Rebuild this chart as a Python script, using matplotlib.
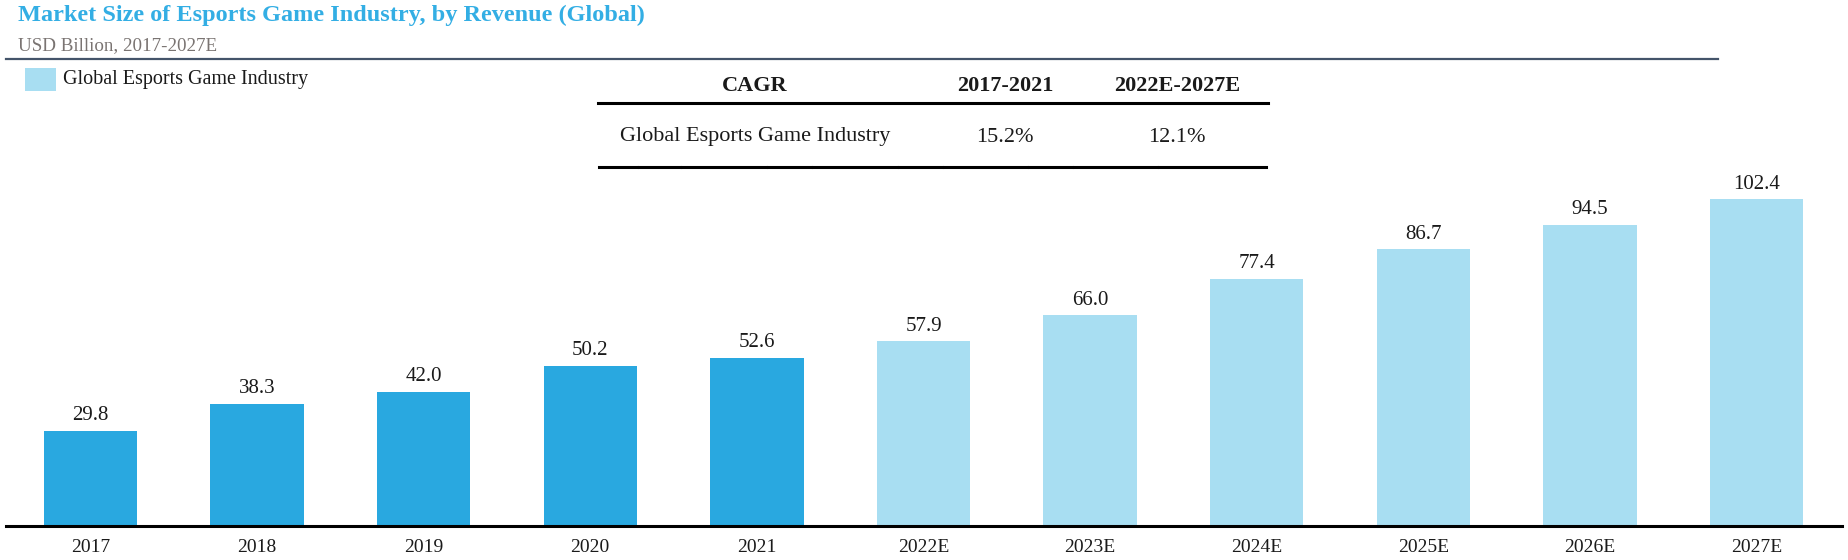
import matplotlib
matplotlib.use("Agg")
import matplotlib.pyplot as plt
from matplotlib.patches import Rectangle
from matplotlib.lines import Line2D

categories = ["2017", "2018", "2019", "2020", "2021", "2022E", "2023E", "2024E", "2025E", "2026E", "2027E"]
values = [29.8, 38.3, 42.0, 50.2, 52.6, 57.9, 66.0, 77.4, 86.7, 94.5, 102.4]
is_estimate = [False] * 5 + [True] * 6

title = "Market Size of Esports Game Industry, by Revenue (Global)"
subtitle = "USD Billion, 2017-2027E"
legend_label = "Global Esports Game Industry"
cagr_header = ["CAGR", "2017-2021", "2022E-2027E"]
cagr_row = ["Global Esports Game Industry", "15.2%", "12.1%"]

ACTUAL = "#29a8e0"
EST = "#a8def2"
TITLE_C = "#33aee4"
SUB_C = "#7a7472"
RULE_C = "#44546a"

plt.rcParams["font.family"] = ["Liberation Serif", "DejaVu Serif"]

W, H = 1848, 560
fig = plt.figure(figsize=(W / 100, H / 100), dpi=100)

def fx(px):
    return px / W

def fy(py):
    return 1 - py / H

# axes: baseline at y=526 px, 3.19 px per unit, ymax 110
ymax = 110
ppu = 3.19
ax_h = ymax * ppu
ax = fig.add_axes([fx(7), (H - 526) / H, fx(1840) - fx(7), ax_h / H])
x = list(range(len(categories)))
colors = [EST if e else ACTUAL for e in is_estimate]
bars = ax.bar(x, values, width=0.56, color=colors, zorder=2)
ax.set_xlim(-0.5, len(categories) - 0.5)
ax.set_ylim(0, ymax)
for rect, v in zip(bars, values):
    ax.annotate(f"{v:.1f}", (rect.get_x() + rect.get_width() / 2, v),
                xytext=(0, 11), textcoords="offset points",
                ha="center", va="center", fontsize=15, color="#1a1a1a")
ax.set_xticks(x)
ax.set_xticklabels(categories, fontsize=14, color="#1a1a1a")
ax.tick_params(axis="x", length=0, pad=9.5)
ax.set_yticks([])
for s in ["top", "right", "left"]:
    ax.spines[s].set_visible(False)
ax.spines["bottom"].set_linewidth(2.2)
ax.spines["bottom"].set_color("black")
ax.spines["bottom"].set_bounds(-0.5 - 1 / 166.6, len(categories) - 0.5 + 2 / 166.6)

# title & subtitle
fig.text(fx(18), fy(15), title, fontsize=17.5, fontweight="bold", color=TITLE_C, va="center", ha="left")
fig.text(fx(18), fy(46), subtitle, fontsize=13.7, color=SUB_C, va="center", ha="left")
fig.add_artist(Line2D([fx(6), fx(1718)], [fy(59), fy(59)], color=RULE_C, linewidth=1.6))

# legend
fig.add_artist(Rectangle((fx(25), fy(91)), fx(31), 23 / H, facecolor=EST, edgecolor="none"))
fig.text(fx(63), fy(80), legend_label, fontsize=14.5, color="#1a1a1a", va="center", ha="left")

# CAGR table
col_x = [755, 1005, 1177]
for cx, t in zip(col_x, cagr_header):
    fig.text(fx(cx), fy(86), t, fontsize=16, fontweight="bold", color="#1a1a1a", ha="center", va="center")
for cx, t in zip(col_x, cagr_row):
    fig.text(fx(cx), fy(137), t, fontsize=16, color="#1a1a1a", ha="center", va="center")
fig.add_artist(Line2D([fx(598), fx(1268)], [fy(103), fy(103)], color="black", linewidth=2.2))
seg_bounds = [598, 638, 681, 767, 812, 898, 943, 1028, 1073, 1158, 1267]
for a, b in zip(seg_bounds[:-1], seg_bounds[1:]):
    fig.add_artist(Line2D([fx(a + 1), fx(b - 1)], [fy(167), fy(167)], color="black", linewidth=2.2))

fig.savefig("out.png", dpi=100)
